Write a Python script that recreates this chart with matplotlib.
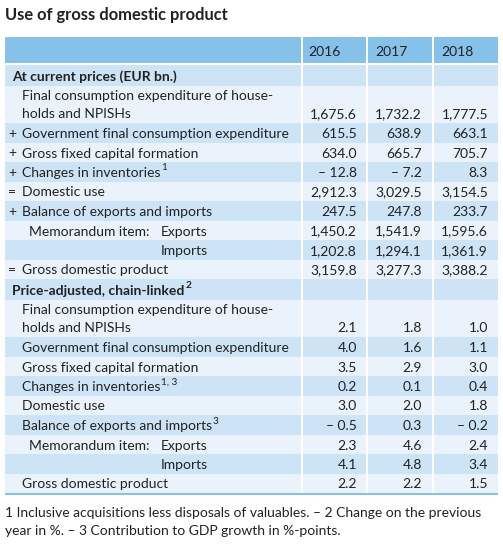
import matplotlib.pyplot as plt
from matplotlib.patches import Rectangle

plt.rcParams['font.family'] = ['Lato', 'DejaVu Sans']

# data
years = ["2016", "2017", "2018"]
title = "Use of gross domestic product"
section_titles = ["At current prices (EUR bn.)", "Price-adjusted, chain-linked"]
section_sups = ["", "2"]
current_prefix = ["", "+", "+", "+", "=", "+", "", "", "="]
row_labels = ["Final consumption expenditure of house-\nholds and NPISHs",
              "Government final consumption expenditure",
              "Gross fixed capital formation",
              "Changes in inventories",
              "Domestic use",
              "Balance of exports and imports",
              "Memorandum item:", "",
              "Gross domestic product"]
current_sups = ["", "", "", "1", "", "", "", "", ""]
real_sups = ["", "", "", "1, 3", "", "3", "", "", ""]
memo_items = ["", "", "", "", "", "", "Exports", "Imports", ""]
current_2016 = [1675.6, 615.5, 634.0, -12.8, 2912.3, 247.5, 1450.2, 1202.8, 3159.8]
current_2017 = [1732.2, 638.9, 665.7, -7.2, 3029.5, 247.8, 1541.9, 1294.1, 3277.3]
current_2018 = [1777.5, 663.1, 705.7, 8.3, 3154.5, 233.7, 1595.6, 1361.9, 3388.2]
real_2016 = [2.1, 4.0, 3.5, 0.2, 3.0, -0.5, 2.3, 4.1, 2.2]
real_2017 = [1.8, 1.6, 2.9, 0.1, 2.0, 0.3, 4.6, 4.8, 2.2]
real_2018 = [1.0, 1.1, 3.0, 0.4, 1.8, -0.2, 2.4, 3.4, 1.5]
footnote = ["1 Inclusive acquisitions less disposals of valuables. – 2 Change on the previous",
            "year in %. – 3 Contribution to GDP growth in %-points."]

HEAD = '#86c1ea'
DARK = '#cde3f6'
LIGHT = '#eaf3fb'
TXT = '#222222'
FS = 10.0


def fmt(v):
    s = f"{abs(v):,.1f}"
    return "– " + s if v < 0 else s


fig = plt.figure(figsize=(5.03, 5.44), dpi=100)
ax = fig.add_axes([0, 0, 1, 1])
ax.set_xlim(0, 503)
ax.set_ylim(544, 0)
ax.axis('off')
renderer = fig.canvas.get_renderer()


def label(x, y, s, sup="", weight='normal'):
    # текст + верхний индекс отдельным текстом
    t = ax.text(x, y, s, fontsize=FS, color=TXT, va='center_baseline', fontweight=weight)
    if sup:
        bb = t.get_window_extent(renderer)
        x_end = ax.transData.inverted().transform((bb.x1, bb.y0))[0]
        ax.text(x_end + 0.8, y - 5, sup, fontsize=FS * 0.72, color=TXT,
                va='center_baseline', fontweight=weight)


left, right = 5, 498
seps = [301, 366.5, 432.5]
num_x = [357, 422, 488]
year_x = [308, 375, 441]

ax.text(5, 15, title, fontsize=11.9, fontweight='bold', color=TXT, va='center')

# header row
ax.add_patch(Rectangle((left, 37), right - left, 26, color=HEAD, lw=0))
for x, yr in zip(year_x, years):
    ax.text(x, 50.5, yr, fontsize=FS, color=TXT, va='center_baseline')

y = 65
sections = [(current_prefix, current_sups, [current_2016, current_2017, current_2018]),
            ([""] * 9, real_sups, [real_2016, real_2017, real_2018])]
for si, (prefixes, sups, cols) in enumerate(sections):
    h = 20.5
    ax.add_patch(Rectangle((left, y), right - left, h, color=DARK, lw=0))
    label(12, y + h / 2 + 0.5, section_titles[si], section_sups[si], 'bold')
    y += h
    for i, lab in enumerate(row_labels):
        two = "\n" in lab
        h = 37.5 if two else 19.5
        ax.add_patch(Rectangle((left, y), right - left, h,
                               color=LIGHT if i % 2 == 0 else DARK, lw=0))
        ty = y + h - 9.5
        if two:
            l1, l2 = lab.split("\n")
            label(22, y + 10, l1)
            label(22, ty, l2, sups[i])
        elif lab.startswith("Memorandum"):
            label(29, ty, lab)
        elif lab:
            label(22, ty, lab, sups[i])
        if memo_items[i]:
            label(161, ty, memo_items[i])
        if prefixes[i]:
            label(8, ty, prefixes[i])
        for c, vals in enumerate(cols):
            ax.text(num_x[c], ty, fmt(vals[i]), fontsize=FS, color=TXT,
                    va='center_baseline', ha='right')
        y += h

# white separators and bottom line
for sx in seps:
    ax.add_patch(Rectangle((sx, 37), 2, y - 37, color='white', lw=0))
ax.add_patch(Rectangle((left, 63), right - left, 2, color='white', lw=0))
ax.add_patch(Rectangle((left, y), right - left, 2, color=HEAD, lw=0))

ax.text(5, 512, footnote[0], fontsize=FS, color=TXT, va='center_baseline')
ax.text(5, 530, footnote[1], fontsize=FS, color=TXT, va='center_baseline')

fig.savefig('out.png', dpi=100)
